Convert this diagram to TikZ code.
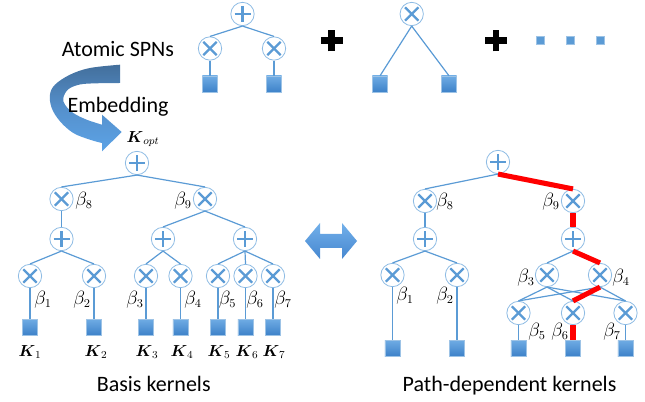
\documentclass[tikz,border=0pt]{standalone}
\usepackage{fontspec}
\setmainfont{Carlito}
\usepackage{amsmath}
\definecolor{lb}{HTML}{5B9BD5}
\definecolor{nb}{HTML}{8DBBE4}
\definecolor{sqtop}{HTML}{6FACE4}
\definecolor{sqbot}{HTML}{3E82C9}
\definecolor{sqedge}{HTML}{9DC3E6}
\definecolor{arrtop}{HTML}{436F9C}
\definecolor{arrmid}{HTML}{5590CC}
\definecolor{arrbot}{HTML}{5CA3E6}
\definecolor{dtop}{HTML}{72B0EA}
\definecolor{dbot}{HTML}{4687D0}
\definecolor{pathred}{HTML}{FF0000}
\tikzset{
  spnnode/.style={circle, draw=nb, line width=0.6pt, fill=white, minimum size=17.5pt, inner sep=0pt},
  symb/.style={draw=lb, line width=1.7pt},
  sumn/.style={spnnode, path picture={
     \draw[symb] ([xshift=-6pt]path picture bounding box.center) -- ([xshift=6pt]path picture bounding box.center);
     \draw[symb] ([yshift=-6pt]path picture bounding box.center) -- ([yshift=6pt]path picture bounding box.center);}},
  prodn/.style={spnnode, path picture={
     \draw[symb] ([shift={(-5pt,-5pt)}]path picture bounding box.center) -- ([shift={(5pt,5pt)}]path picture bounding box.center);
     \draw[symb] ([shift={(-5pt,5pt)}]path picture bounding box.center) -- ([shift={(5pt,-5pt)}]path picture bounding box.center);}},
  leaf/.style={rectangle, minimum width=11.3pt, minimum height=12pt, inner sep=0pt, top color=sqtop, bottom color=sqbot, draw=sqedge, line width=0.3pt},
  dotsq/.style={rectangle, minimum size=6pt, inner sep=0pt, fill=lb, draw=sqedge, line width=0.3pt},
  edge/.style={draw=lb, line width=0.9pt},
  redp/.style={draw=pathred, line width=3.8pt},
  bigtxt/.style={font=\fontsize{16.5}{20}\selectfont, inner sep=0pt, anchor=base},
  blab/.style={font=\fontsize{13.5}{15}\selectfont, inner sep=0pt},
  klab/.style={font=\fontsize{12}{14}\selectfont, inner sep=0pt},
  blackplus/.style={draw=black, line width=5.2pt}
}
\begin{document}
\begin{tikzpicture}[x=0.75pt,y=-0.75pt]
\useasboundingbox (0,0) rectangle (645,402);

% ---------- curved embedding arrow ----------
\shade[top color=arrtop, bottom color=arrbot, middle color=arrmid]
  plot[smooth, tension=0.6] coordinates {(120,64.7) (90,68) (70,74.7) (55,84.7) (50,94.7) (51.7,108) (60,121.3) (73.3,133) (90,139.7) (102,143)}
  -- (102,151.3) -- (121.7,132) -- (102,114.7) -- (102,124.7)
  -- plot[smooth, tension=0.6] coordinates {(102,124.7) (86.7,119.7) (73.3,113) (65,104.7) (63.3,98) (68.3,89.3) (80,84.5) (96.7,83.3) (120,83)}
  -- cycle;

\node[bigtxt] (atomic) at (118,56.7) {Atomic SPNs};
\node[bigtxt] (embed) at (118,112.7) {Embedding};
\node[klab] (kopt) at (143,139) {$\boldsymbol{K}_{opt}$};

% ---------- atomic SPNs ----------
\node[sumn] (a0) at (242.5,14) {};
\node[prodn] (a1) at (210,48.5) {};
\node[prodn] (a2) at (274,48.5) {};
\node[leaf] (a3) at (210,84) {};
\node[leaf] (a4) at (274,84) {};
\draw[edge] (a0.south) -- (a1.north);
\draw[edge] (a0.south) -- (a2.north);
\draw[edge] (a1.south) -- (a3.north);
\draw[edge] (a2.south) -- (a4.north);

\coordinate (plusA) at (331.7,40.5);
\draw[blackplus] ([xshift=-8.2pt]plusA) -- ([xshift=8.2pt]plusA);
\draw[blackplus] ([yshift=-8.2pt]plusA) -- ([yshift=8.2pt]plusA);

\node[prodn] (b0) at (411.7,14) {};
\node[leaf] (b1) at (380,84) {};
\node[leaf] (b2) at (449,84) {};
\draw[edge] (b0.south) -- (b1.north);
\draw[edge] (b0.south) -- (b2.north);

\coordinate (plusB) at (496,40.5);
\draw[blackplus] ([xshift=-8.2pt]plusB) -- ([xshift=8.2pt]plusB);
\draw[blackplus] ([yshift=-8.2pt]plusB) -- ([yshift=8.2pt]plusB);

\node[dotsq] (d1) at (540,40) {};
\node[dotsq] (d2) at (570,40) {};
\node[dotsq] (d3) at (600,40) {};

% ---------- left tree: basis kernels ----------
\node[sumn] (l0) at (137,163) {};
\node[prodn] (l8) at (61.5,199) {};
\node[prodn] (l9) at (205,199) {};
\node[sumn] (ls1) at (61.5,239) {};
\node[sumn] (ls2) at (163,239) {};
\node[sumn] (ls3) at (245,239) {};
\foreach \n/\x in {1/30,2/94,3/146,4/180.5,5/218,6/245.5,7/273} {
  \node[prodn] (lp\n) at (\x,276) {};
  \node[leaf] (ll\n) at (\x,327) {};
  \draw[edge] (lp\n.south) -- (ll\n.north);
}
\draw[edge] (l0.south) -- (l8.north);
\draw[edge] (l0.south) -- (l9.north);
\draw[edge] (l8.south) -- (ls1.north);
\draw[edge] (l9.south) -- (ls2.north);
\draw[edge] (l9.south) -- (ls3.north);
\draw[edge] (ls1.south) -- (lp1.north);
\draw[edge] (ls1.south) -- (lp2.north);
\draw[edge] (ls2.south) -- (lp3.north);
\draw[edge] (ls2.south) -- (lp4.north);
\draw[edge] (ls3.south) -- (lp5.north);
\draw[edge] (ls3.south) -- (lp6.north);
\draw[edge] (ls3.south) -- (lp7.north);

\node[blab] (lb8) at (84,201) {$\beta_8$};
\node[blab] (lb9) at (183,201) {$\beta_9$};
\node[blab] (lb1) at (43,300) {$\beta_1$};
\node[blab] (lb2) at (82,300) {$\beta_2$};
\node[blab] (lb3) at (135,300) {$\beta_3$};
\node[blab] (lb4) at (193,300) {$\beta_4$};
\node[blab] (lb5) at (227.5,300) {$\beta_5$};
\node[blab] (lb6) at (255,300) {$\beta_6$};
\node[blab] (lb7) at (283,300) {$\beta_7$};

\node[klab] (k1) at (30,352) {$\boldsymbol{K}_1$};
\node[klab] (k2) at (96,352) {$\boldsymbol{K}_2$};
\node[klab] (k3) at (147,352) {$\boldsymbol{K}_3$};
\node[klab] (k4) at (182,352) {$\boldsymbol{K}_4$};
\node[klab] (k5) at (219,352) {$\boldsymbol{K}_5$};
\node[klab] (k6) at (247,352) {$\boldsymbol{K}_6$};
\node[klab] (k7) at (274,352) {$\boldsymbol{K}_7$};

\node[bigtxt] (basis) at (153.7,391.7) {Basis kernels};

% ---------- double arrow ----------
\shade[top color=dtop, bottom color=dbot]
  (305,241) -- (320,223) -- (320,234) -- (342,234) -- (342,223) -- (357,241)
  -- (342,259) -- (342,248) -- (320,248) -- (320,259) -- cycle;

% ---------- right tree: path-dependent kernels ----------
\node[sumn] (r0) at (498,162) {};
\node[prodn] (r8) at (425,201) {};
\node[prodn] (r9) at (573,201) {};
\node[sumn] (rs1) at (425,239) {};
\node[sumn] (rs2) at (573,239) {};
\node[prodn] (rp1) at (392.5,275) {};
\node[prodn] (rp2) at (457,275) {};
\node[prodn] (rp3) at (547,275) {};
\node[prodn] (rp4) at (600,275) {};
\node[prodn] (rp5) at (518.5,313) {};
\node[prodn] (rp6) at (573,313) {};
\node[prodn] (rp7) at (625.5,313) {};
\node[leaf] (rl1) at (392.5,348) {};
\node[leaf] (rl2) at (457,348) {};
\node[leaf] (rl5) at (518.5,348) {};
\node[leaf] (rl6) at (573,348) {};
\node[leaf] (rl7) at (625.5,348) {};

\draw[edge] (r0.south) -- (r8.north);
\draw[edge] (r0.south) -- (r9.north);
\draw[edge] (r8.south) -- (rs1.north);
\draw[edge] (r9.south) -- (rs2.north);
\draw[edge] (rs1.south) -- (rp1.north);
\draw[edge] (rs1.south) -- (rp2.north);
\draw[edge] (rs2.south) -- (rp3.north);
\draw[edge] (rs2.south) -- (rp4.north);
\foreach \a in {rp3,rp4} {
  \foreach \b in {rp5,rp6,rp7} {
    \draw[edge] (\a.south) -- (\b.north);
  }
}
\draw[edge] (rp1.south) -- (rl1.north);
\draw[edge] (rp2.south) -- (rl2.north);
\draw[edge] (rp5.south) -- (rl5.north);
\draw[edge] (rp6.south) -- (rl6.north);
\draw[edge] (rp7.south) -- (rl7.north);

% red path
\draw[redp] (r0.south) -- (r9.north);
\draw[redp] (r9.south) -- (rs2.north);
\draw[redp] (rs2.south) -- (rp4.north);
\draw[redp] (rp4.south) -- (rp6.north);
\draw[redp] (rp6.south) -- (rl6.north);

\node[blab] (rb8) at (445,202) {$\beta_8$};
\node[blab] (rb9) at (551,202) {$\beta_9$};
\node[blab] (rb1) at (405,296) {$\beta_1$};
\node[blab] (rb2) at (445,296) {$\beta_2$};
\node[blab] (rb3) at (526,278) {$\beta_3$};
\node[blab] (rb4) at (621,278) {$\beta_4$};
\node[blab] (rb5) at (537,332) {$\beta_5$};
\node[blab] (rb6) at (560,332) {$\beta_6$};
\node[blab] (rb7) at (612,332) {$\beta_7$};

\node[bigtxt] (pathk) at (509.5,391.7) {Path-dependent kernels};
\end{tikzpicture}
\end{document}
